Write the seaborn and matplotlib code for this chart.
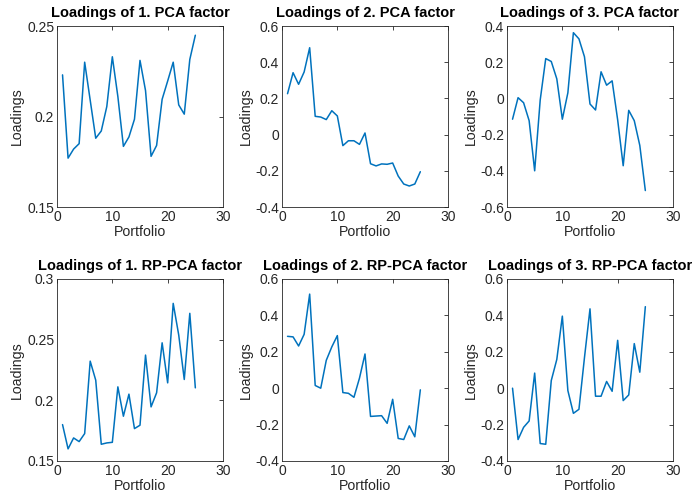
import numpy as np
import pandas as pd
import matplotlib
matplotlib.use("Agg")
import matplotlib.pyplot as plt
import seaborn as sns

portfolio = list(range(1, 26))

pca1 = [0.223, 0.177, 0.182, 0.185, 0.230, 0.209, 0.188, 0.192, 0.2055, 0.233,
        0.211, 0.1835, 0.1887, 0.1985, 0.231, 0.2143, 0.178, 0.184, 0.2095, 0.2196,
        0.230, 0.2064, 0.2013, 0.2315, 0.2449]
pca2 = [0.226, 0.342, 0.278, 0.346, 0.480, 0.101, 0.097, 0.083, 0.132, 0.103,
        -0.061, -0.034, -0.034, -0.054, 0.009, -0.161, -0.173, -0.162, -0.164, -0.157,
        -0.229, -0.273, -0.284, -0.273, -0.205]
pca3 = [-0.115, 0.004, -0.024, -0.123, -0.400, -0.009, 0.220, 0.204, 0.108, -0.115,
        0.031, 0.363, 0.329, 0.230, -0.031, -0.064, 0.147, 0.073, 0.097, -0.119,
        -0.372, -0.066, -0.123, -0.260, -0.509]
rp1 = [0.180, 0.160, 0.169, 0.166, 0.1726, 0.2323, 0.2166, 0.1638, 0.1649, 0.1654,
       0.2111, 0.1869, 0.2051, 0.1767, 0.1795, 0.2373, 0.1946, 0.2062, 0.2474, 0.2144,
       0.2799, 0.2538, 0.2172, 0.2717, 0.2103]
rp2 = [0.285, 0.282, 0.232, 0.296, 0.517, 0.015, 0.000, 0.153, 0.227, 0.289,
       -0.024, -0.028, -0.050, 0.055, 0.188, -0.155, -0.153, -0.151, -0.193, -0.061,
       -0.276, -0.282, -0.207, -0.267, -0.009]
rp3 = [0.000, -0.282, -0.215, -0.180, 0.083, -0.304, -0.308, 0.042, 0.158, 0.396,
       -0.013, -0.138, -0.116, 0.168, 0.436, -0.044, -0.044, 0.037, -0.017, 0.263,
       -0.068, -0.037, 0.245, 0.088, 0.448]

titles = ["Loadings of 1. PCA factor", "Loadings of 2. PCA factor", "Loadings of 3. PCA factor",
          "Loadings of 1. RP-PCA factor", "Loadings of 2. RP-PCA factor", "Loadings of 3. RP-PCA factor"]
series = [pca1, pca2, pca3, rp1, rp2, rp3]
ylims = [(0.15, 0.25), (-0.4, 0.6), (-0.6, 0.4), (0.15, 0.3), (-0.4, 0.6), (-0.4, 0.6)]
yticks = [[0.15, 0.2, 0.25], np.arange(-0.4, 0.61, 0.2), np.arange(-0.6, 0.41, 0.2),
          [0.15, 0.2, 0.25, 0.3], np.arange(-0.4, 0.61, 0.2), np.arange(-0.4, 0.61, 0.2)]

sns.set_style("white")
plt.rcParams['font.family'] = ['Liberation Sans', 'DejaVu Sans']

fig = plt.figure(figsize=(6.97, 4.99), dpi=100)
W, H = 697, 499
lefts = [57, 282, 507]
rows = [(26, 207), (279, 461)]
grey = "#262626"

for i, (vals, title) in enumerate(zip(series, titles)):
    r, c = divmod(i, 3)
    top, bot = rows[r]
    ax = fig.add_axes([lefts[c] / W, 1 - bot / H, 166 / W, (bot - top) / H])
    df = pd.DataFrame({"Portfolio": portfolio, "Loadings": vals})
    sns.lineplot(data=df, x="Portfolio", y="Loadings", ax=ax, color="#0072BD", linewidth=1.1)
    ax.set_xlim(0, 30)
    ax.set_xticks([0, 10, 20, 30])
    ax.set_ylim(*ylims[i])
    ax.set_yticks(yticks[i])
    ax.set_yticklabels([f"{v:g}" if abs(v) > 1e-9 else "0" for v in yticks[i]])
    ax.tick_params(direction="in", length=3, width=0.6, colors=grey, labelsize=10,
                   top=True, right=True, labeltop=False, labelright=False, pad=2)
    for sp in ax.spines.values():
        sp.set_color(grey)
        sp.set_linewidth(0.6)
    ax.set_xlabel("Portfolio", fontsize=10.2, color=grey, labelpad=1)
    ax.set_ylabel("Loadings", fontsize=10.2, color=grey, labelpad=2)
    ax.set_title(title, fontsize=10.5, fontweight="bold", color="black", pad=6.5)

fig.savefig("out.png", dpi=100)
